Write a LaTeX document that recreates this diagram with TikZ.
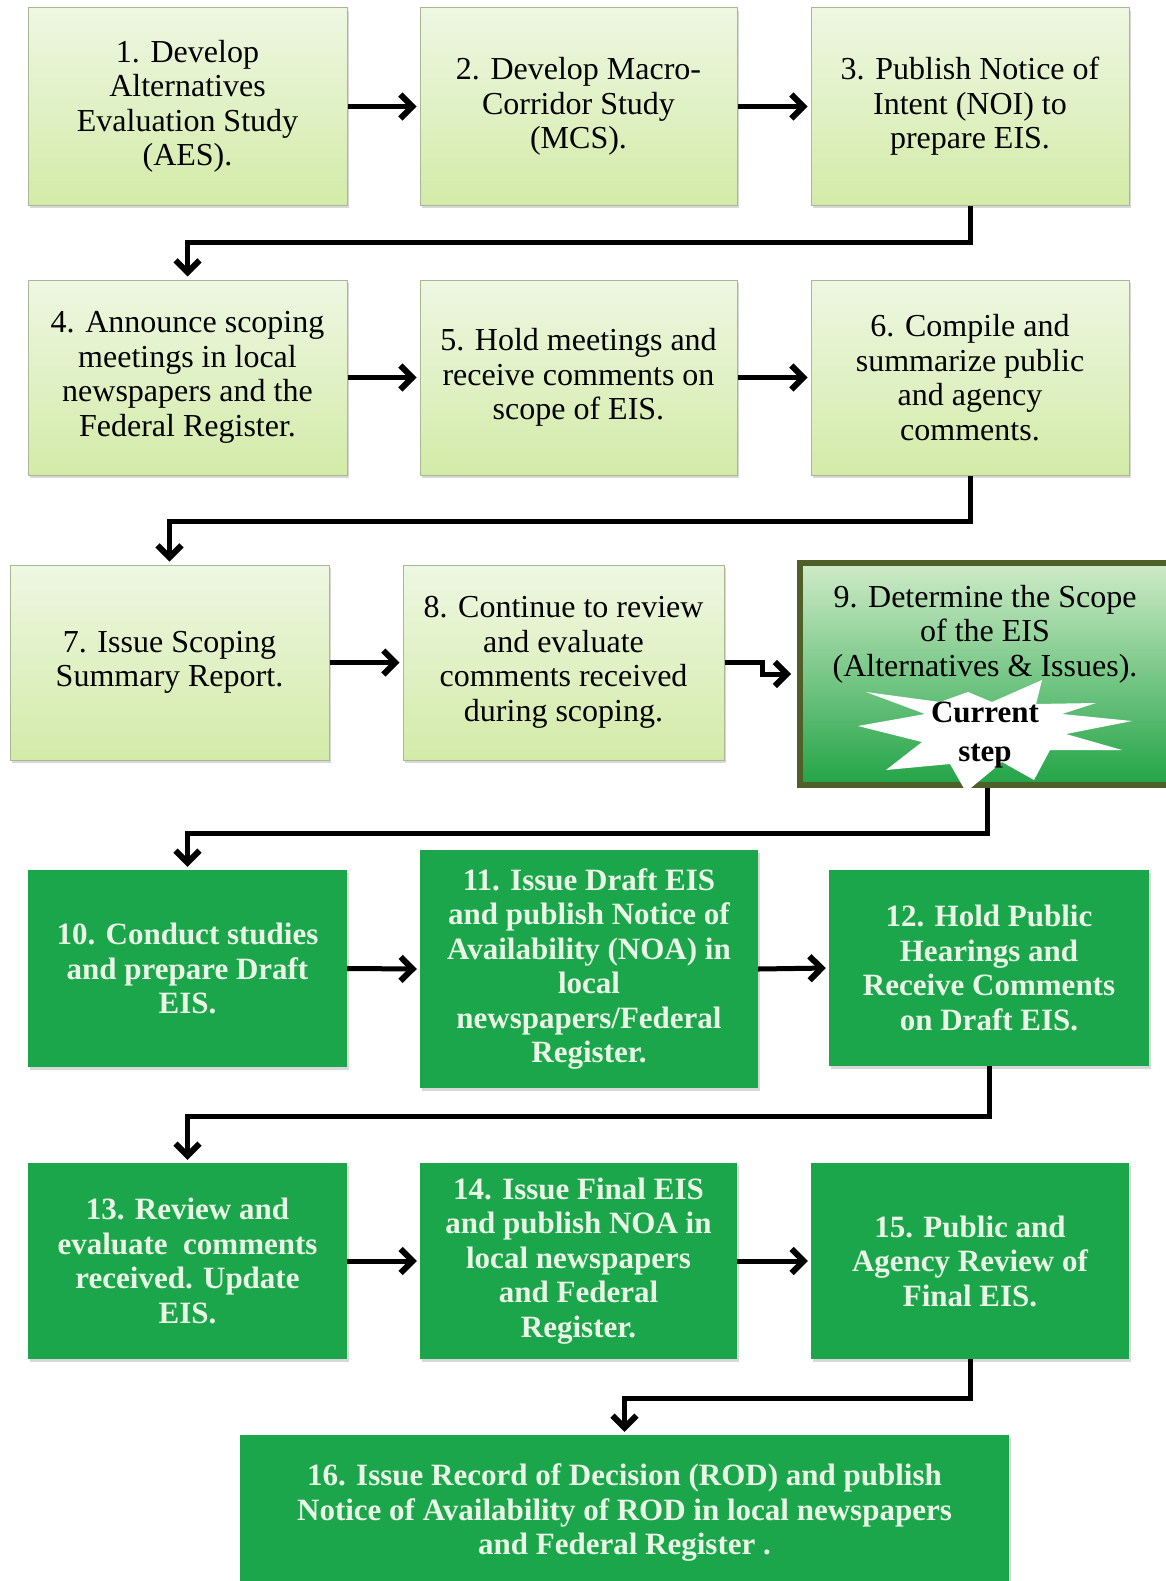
\documentclass[tikz,border=0pt]{standalone}
\usepackage{fontspec}
\setmainfont{Liberation Serif}
\usetikzlibrary{arrows.meta,shadows,calc}
\definecolor{lgtop}{HTML}{EEF7E2}
\definecolor{lgbot}{HTML}{D3EBA8}
\definecolor{lgedge}{HTML}{A8B894}
\definecolor{dg}{HTML}{1CA64C}
\definecolor{dgtext}{HTML}{EAF7E6}
\definecolor{olivebd}{HTML}{4F5F28}
\definecolor{ninetop}{HTML}{CFEBC8}
\definecolor{ninebot}{HTML}{22A447}
\tikzset{
  box/.style={rectangle, align=center, inner sep=0pt,
    drop shadow={shadow xshift=2pt, shadow yshift=-3pt, opacity=0.3, fill=gray}},
  light/.style={box, draw=lgedge, line width=1pt, top color=lgtop, bottom color=lgbot,
    font=\fontsize{32}{34.5}\selectfont, text=black},
  dark/.style={box, fill=dg, font=\bfseries\fontsize{31}{34.5}\selectfont, text=dgtext},
  arr/.style={line width=5pt, shorten >=3pt,
    -{Straight Barb[length=12pt,width=24pt,line width=6pt]}},
}
\begin{document}
\begin{tikzpicture}[x=1pt,y=-1pt]
\useasboundingbox[fill=white] (0,0) rectangle (1166,1581);
% row 1
\node[light, minimum width=319pt, minimum height=197pt] (b1) at (187.5,106.5)
  {1. Develop\\Alternatives\\Evaluation Study\\(AES).};
\node[light, minimum width=317pt, minimum height=197pt] (b2) at (578.5,106.5)
  {2. Develop Macro-\\Corridor Study\\(MCS).};
\node[light, minimum width=318pt, minimum height=197pt] (b3) at (970,106.5)
  {3. Publish Notice of\\Intent (NOI) to\\prepare EIS.};
% row 2
\node[light, minimum width=319pt, minimum height=195pt] (b4) at (187.5,377.5)
  {4. Announce scoping\\meetings in local\\newspapers and the\\Federal Register.};
\node[light, minimum width=317pt, minimum height=195pt] (b5) at (578.5,377.5)
  {5. Hold meetings and\\receive comments on\\scope of EIS.};
\node[light, minimum width=318pt, minimum height=195pt] (b6) at (970,377.5)
  {6. Compile and\\summarize public\\and agency\\comments.};
% row 3
\node[light, minimum width=319pt, minimum height=195pt] (b7) at (169.5,662.5)
  {7. Issue Scoping\\Summary Report.};
\node[light, minimum width=321pt, minimum height=195pt] (b8) at (563.5,662.5)
  {8. Continue to review\\and evaluate\\comments received\\during scoping.};
\node[box, draw=olivebd, line width=6pt, top color=ninetop, bottom color=ninebot,
  minimum width=375pt, minimum height=222pt] (b9) at (987.5,674) {};
\node[font=\fontsize{32}{34.5}\selectfont, align=center, inner sep=0pt] (b9t) at (985,634)
  {9. Determine the Scope\\of the EIS\\(Alternatives \& Issues).};
\path[fill=white] (858,726) -- (925,714) -- (866,692) -- (940,702) -- (968,692)
  -- (992,702) -- (1042,680) -- (1036,704) -- (1096,703) -- (1062,714)
  -- (1132,721) -- (1066,734) -- (1122,750) -- (1050,750) -- (1034,780)
  -- (1002,762) -- (966,792) -- (950,764) -- (886,770) -- (922,742) -- cycle;
\node[font=\bfseries\fontsize{31}{39}\selectfont, align=center, inner sep=0pt] (cur) at (985,735)
  {Current\\step};
% row 4
\node[dark, minimum width=319pt, minimum height=197pt] (b10) at (187.5,968.5)
  {10. Conduct studies\\and prepare Draft\\EIS.};
\node[dark, minimum width=338pt, minimum height=238pt] (b11) at (589,969)
  {11. Issue Draft EIS\\and publish Notice of\\Availability (NOA) in\\local\\newspapers/Federal\\Register.};
\node[dark, minimum width=320pt, minimum height=196pt] (b12) at (989,968)
  {12. Hold Public\\Hearings and\\Receive Comments\\on Draft EIS.};
% row 5
\node[dark, minimum width=319pt, minimum height=196pt] (b13) at (187.5,1261)
  {13. Review and\\evaluate\ \ comments\\received. Update\\EIS.};
\node[dark, minimum width=317pt, minimum height=196pt] (b14) at (578.5,1261)
  {14. Issue Final EIS\\and publish NOA in\\local newspapers\\and Federal\\Register.};
\node[dark, minimum width=318pt, minimum height=196pt] (b15) at (970,1261)
  {15. Public and\\Agency Review of\\Final EIS.};
% row 6
\node[dark, minimum width=769pt, minimum height=155pt] (b16) at (624.5,1512.5)
  {16. Issue Record of Decision (ROD) and publish\\Notice of Availability of ROD in local newspapers\\and Federal Register .};
% connectors
\draw[arr] (b1.east) -- (b2.west);
\draw[arr] (b2.east) -- (b3.west);
\draw[arr] (b3.south) -- ++(0,37) -| (b4.north);
\draw[arr] (b4.east) -- (b5.west);
\draw[arr] (b5.east) -- (b6.west);
\draw[arr] (b6.south) -- ++(0,46) -| (b7.north);
\draw[arr] (b7.east) -- (b8.west);
\draw[arr, shorten >=6pt] (b8.east) -- ++(38,0) |- (b9.west);
\draw[arr] (b9.south) -- ++(0,45) -| (b10.north);
\draw[arr] (b10.east) -- (b11.west);
\draw[arr] (b11.east) -- (b12.west);
\draw[arr] (b12.south) -- ++(0,50) -| (b13.north);
\draw[arr] (b13.east) -- (b14.west);
\draw[arr] (b14.east) -- (b15.west);
\draw[arr] (b15.south) -- ++(0,39) -| (b16.north);
\end{tikzpicture}
\end{document}
